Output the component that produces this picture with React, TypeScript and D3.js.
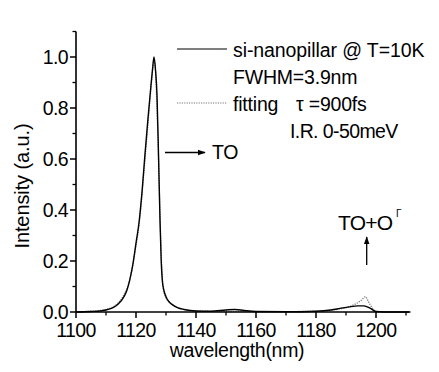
import React from 'react';
import * as d3 from 'd3';

// measured PL spectrum (si-nanopillar @ 10K)
const measuredWl = [1100, 1105, 1108, 1110, 1112, 1114, 1116, 1117, 1118, 1119, 1120, 1121, 1122, 1123, 1124, 1125, 1125.5, 1126, 1126.5, 1127, 1127.5, 1128, 1128.4, 1128.8, 1129.2, 1130, 1131, 1132, 1134, 1136, 1140, 1145, 1150, 1153, 1156, 1160, 1170, 1180, 1185, 1188, 1191, 1194, 1196, 1198, 1200, 1205, 1211];
const measuredI = [0.0, 0.002, 0.004, 0.008, 0.015, 0.03, 0.06, 0.086, 0.13, 0.19, 0.27, 0.35, 0.47, 0.62, 0.76, 0.89, 0.95, 1.0, 0.95, 0.85, 0.62, 0.36, 0.2, 0.12, 0.09, 0.06, 0.04, 0.03, 0.016, 0.01, 0.004, 0.003, 0.008, 0.01, 0.006, 0.002, 0.001, 0.003, 0.008, 0.014, 0.02, 0.024, 0.024, 0.015, 0.002, 0, 0];

// fitting curve
const fitWl = [1100, 1105, 1108, 1110, 1112, 1114, 1116, 1118, 1120, 1121, 1122, 1123, 1124, 1125, 1125.6, 1126, 1126.4, 1127, 1127.5, 1128, 1128.5, 1129, 1129.5, 1130, 1131, 1133, 1136, 1140, 1150, 1160, 1175, 1183, 1188, 1192, 1195, 1196.5, 1197.5, 1199, 1200, 1211];
const fitI = [0.001, 0.003, 0.006, 0.01, 0.018, 0.035, 0.068, 0.13, 0.26, 0.34, 0.46, 0.6, 0.74, 0.88, 0.96, 0.99, 0.96, 0.8, 0.6, 0.38, 0.2, 0.1, 0.07, 0.055, 0.04, 0.022, 0.01, 0.004, 0.002, 0.001, 0.002, 0.005, 0.012, 0.025, 0.045, 0.06, 0.04, 0.012, 0.002, 0];

const xTicks = [1100, 1120, 1140, 1160, 1180, 1200];
const xMinor = [1110, 1130, 1150, 1170, 1190, 1210];
const yTicks = [0.0, 0.2, 0.4, 0.6, 0.8, 1.0];
const yMinor = [0.1, 0.3, 0.5, 0.7, 0.9, 1.1];

const font = "'Liberation Sans', Arial, sans-serif";

export default function App() {
  const x = d3.scaleLinear().domain([1100, 1211.5]).range([76, 410.5]);
  const y = d3.scaleLinear().domain([0, 1.1]).range([312, 31.5]);

  const line = d3.line<[number, number]>()
    .x(d => x(d[0]))
    .y(d => y(d[1]))
    .curve(d3.curveMonotoneX);

  const measured = line(measuredWl.map((w, i) => [w, measuredI[i]] as [number, number])) || '';
  const fit = line(fitWl.map((w, i) => [w, fitI[i]] as [number, number])) || '';

  return (
    <svg width={439} height={372} style={{ position: 'absolute', left: 0, top: 0, background: '#fff' }}>
      <defs>
        <marker id="arr" viewBox="0 0 10 10" refX="9" refY="5" markerWidth="6" markerHeight="6" orient="auto">
          <path d="M0,1.5 L10,5 L0,8.5 z" fill="#000" />
        </marker>
      </defs>

      {/* curves */}
      <path d={fit} fill="none" stroke="#777" strokeWidth={1.3} strokeDasharray="1.2,1.2" />
      <path d={measured} fill="none" stroke="#000" strokeWidth={1.4} />

      {/* axes */}
      <line x1={x(1100)} x2={x(1211.5)} y1={y(0)} y2={y(0)} stroke="#000" strokeWidth={1.6} />
      <line x1={x(1100)} x2={x(1100)} y1={y(0)} y2={y(1.1)} stroke="#000" strokeWidth={1.6} />
      {xTicks.map(t => (
        <g key={'xt' + t}>
          <line x1={x(t)} x2={x(t)} y1={y(0)} y2={y(0) + 6} stroke="#000" strokeWidth={1.5} />
          <text x={x(t)} y={337} textAnchor="middle" fontFamily={font} fontSize={19.5} letterSpacing={-0.6}>{t}</text>
        </g>
      ))}
      {xMinor.map(t => (
        <line key={'xm' + t} x1={x(t)} x2={x(t)} y1={y(0)} y2={y(0) + 3.5} stroke="#000" strokeWidth={1.3} />
      ))}
      {yTicks.map(t => (
        <g key={'yt' + t}>
          <line x1={x(1100) - 6} x2={x(1100)} y1={y(t)} y2={y(t)} stroke="#000" strokeWidth={1.5} />
          <text x={68} y={y(t) + 6.5} textAnchor="end" fontFamily={font} fontSize={19.5} letterSpacing={-0.6}>{t.toFixed(1)}</text>
        </g>
      ))}
      {yMinor.map(t => (
        <line key={'ym' + t} x1={x(1100) - 3.5} x2={x(1100)} y1={y(t)} y2={y(t)} stroke="#000" strokeWidth={1.3} />
      ))}

      {/* axis titles */}
      <text x={237} y={357} textAnchor="middle" fontFamily={font} fontSize={19.5} letterSpacing={-0.3}>wavelength(nm)</text>
      <text transform="translate(29,186) rotate(-90)" textAnchor="middle" fontFamily={font} fontSize={20} letterSpacing={-0.1}>Intensity (a.u.)</text>

      {/* legend */}
      <line x1={177} x2={227} y1={49} y2={49} stroke="#000" strokeWidth={1.2} />
      <text x={233} y={57} fontFamily={font} fontSize={19.5} letterSpacing={-0.1}>si-nanopillar @ T=10K</text>
      <text x={233} y={84} fontFamily={font} fontSize={19.5} letterSpacing={-0.2}>FWHM=3.9nm</text>
      <line x1={177} x2={227} y1={103} y2={103} stroke="#777" strokeWidth={1.2} strokeDasharray="1.2,1.2" />
      <text x={233} y={111} fontFamily={font} fontSize={19.5} letterSpacing={-0.2}>fitting</text>
      <text x={296} y={111} fontFamily={font} fontSize={19.5} letterSpacing={-0.2}>τ =900fs</text>
      <text x={290} y={138} fontFamily={font} fontSize={19.5} letterSpacing={-0.6}>I.R. 0-50meV</text>

      {/* annotations */}
      <line x1={165} x2={205} y1={152.5} y2={152.5} stroke="#000" strokeWidth={1.3} markerEnd="url(#arr)" />
      <text x={212} y={159} fontFamily={font} fontSize={19.5} letterSpacing={-0.3}>TO</text>
      <text x={338} y={230} fontFamily={font} fontSize={21} letterSpacing={-0.8}>TO+O</text>
      <text x={396} y={217} fontFamily={font} fontSize={10}>Γ</text>
      <line x1={366.7} x2={366.7} y1={265} y2={237} stroke="#000" strokeWidth={1.3} markerEnd="url(#arr)" />
    </svg>
  );
}
